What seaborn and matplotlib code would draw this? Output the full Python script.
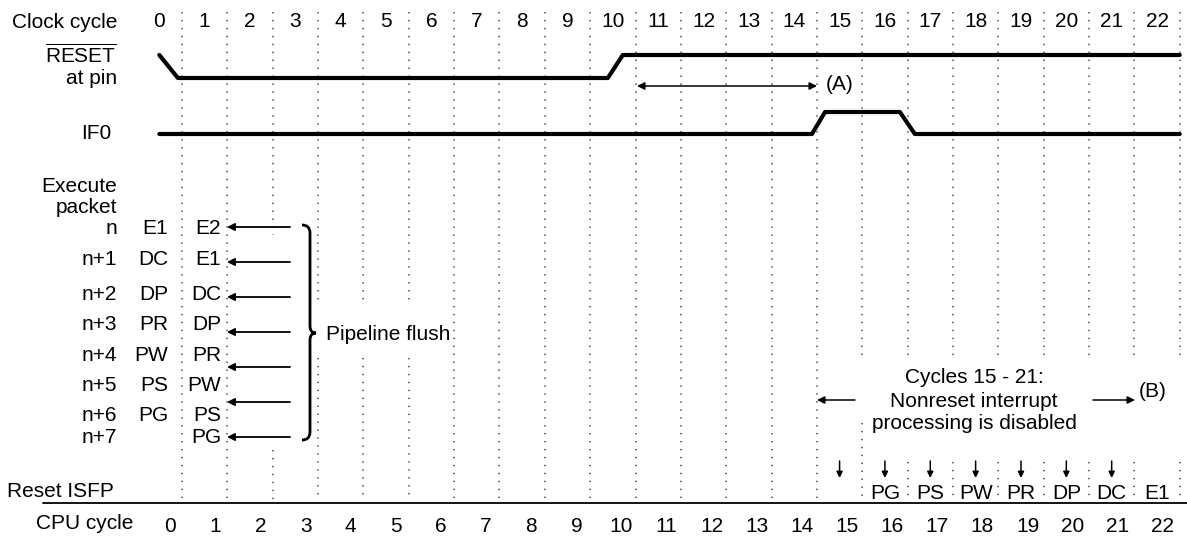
import numpy as np
import pandas as pd
import matplotlib.pyplot as plt
import seaborn as sns
from matplotlib.path import Path
from matplotlib.patches import PathPatch

# ── data ─────────────────────────────────────────────
clock_cycles = list(range(23))
cpu_cycles = list(range(23))

# signal transitions (time in clock cycles, level 1 = high)
reset_t = [0.0, 0.41, 9.89, 10.22, 22.5]
reset_lvl = [1, 0, 0, 1, 1]
if0_t = [0.0, 14.39, 14.68, 16.33, 16.66, 22.5]
if0_lvl = [0, 0, 1, 1, 0, 0]

packets = ["n", "n+1", "n+2", "n+3", "n+4", "n+5", "n+6", "n+7"]
stage_cyc0 = ["E1", "DC", "DP", "PR", "PW", "PS", "PG", ""]
stage_cyc1 = ["E2", "E1", "DC", "DP", "PR", "PW", "PS", "PG"]

blocked_cycles = [15, 16, 17, 18, 19, 20, 21]
isfp_cycles = [16, 17, 18, 19, 20, 21, 22]
isfp_stages = ["PG", "PS", "PW", "PR", "DP", "DC", "E1"]

# ── layout helpers (pixel rows, cycle columns) ──────
W, H = 1187, 537
PX0, STEP = 182, 45.35


def X(p):
    return 0.5 + (p - PX0) / STEP


sns.set_theme(style="white")
plt.rcParams["font.family"] = ["Liberation Sans", "DejaVu Sans"]
plt.rcParams["mathtext.fontset"] = "custom"
plt.rcParams["mathtext.rm"] = "Liberation Sans"
FS = 15
DY = 1.5  # text baseline nudge

fig = plt.figure(figsize=(W / 100, H / 100), dpi=100)
ax = fig.add_axes([0, 0, 1, 1])
ax.set_xlim(X(0), X(W))
ax.set_ylim(H, 0)
ax.axis("off")


def label(x, y, s, ha="center"):
    ax.text(x, y + DY, s, ha=ha, va="center", fontsize=FS, color="black")


# dotted cycle boundaries (gaps where annotations sit)
gaps = {2.5: [(12, 235), (450, 500)]}
for b in [3.5, 4.5, 5.5]:
    gaps[b] = [(12, 305), (358, 500)]
gaps[15.5] = [(12, 360), (423, 500)]
for b in [16.5, 17.5, 18.5, 19.5, 20.5, 21.5, 22.5]:
    gaps[b] = [(12, 360), (462, 500)]
for c in clock_cycles:
    b = c + 0.5
    for y0, y1 in gaps.get(b, [(12, 500)]):
        ax.plot([b, b], [y0, y1], color="#444444", lw=1.1,
                ls=(0, (0.9, 4.3)), zorder=1)

# labels on the left
lab_x = X(117)
label(lab_x, 21, "Clock cycle", "right")
label(lab_x, 54, r"$\overline{\mathrm{RESET}}$", "right")
label(lab_x, 77, "at pin", "right")
label(X(111), 132, "IF0", "right")
label(lab_x, 185, "Execute", "right")
label(lab_x, 206, "packet", "right")
label(X(7), 490, "Reset ISFP", "left")
label(X(36), 522, "CPU cycle", "left")

for c in clock_cycles:
    label(c, 20, str(c))
for c in cpu_cycles:
    label(0.24 + 0.995 * c, 525, str(c))

# waveforms
sig = pd.concat([
    pd.DataFrame({"t": reset_t, "y": [78 - 23 * v for v in reset_lvl], "sig": "RESET"}),
    pd.DataFrame({"t": if0_t, "y": [134 - 22 * v for v in if0_lvl], "sig": "IF0"}),
])
sns.lineplot(data=sig, x="t", y="y", units="sig", estimator=None, sort=False,
             color="black", lw=3, ax=ax, legend=False)

# (A) double arrow
ax.annotate("", xy=(X(637), 86), xytext=(X(817), 86),
            arrowprops=dict(arrowstyle="<|-|>", color="black", lw=1.1,
                            mutation_scale=11, shrinkA=0, shrinkB=0))
label(X(826), 83, "(A)", "left")

# execute packets
rows_y = [227, 258, 293, 323, 354, 384, 414, 436]
for yy, p, s0, s1 in zip(rows_y, packets, stage_cyc0, stage_cyc1):
    label(lab_x, yy, p, "right")
    label(X(168), yy, s0, "right")
    label(X(221), yy, s1, "right")

for k in range(7):
    yy = 227 + 35 * k
    ax.annotate("", xy=(X(227), yy), xytext=(X(290), yy),
                arrowprops=dict(arrowstyle="-|>", color="black", lw=1.3,
                                mutation_scale=11, shrinkA=0, shrinkB=0))

# brace
verts = [(302, 225), (310, 225), (310, 233), (310, 326), (310, 333), (316, 333),
         (310, 333), (310, 340), (310, 432), (310, 440), (302, 440)]
codes = [Path.MOVETO, Path.CURVE3, Path.CURVE3, Path.LINETO, Path.CURVE3, Path.CURVE3,
         Path.CURVE3, Path.CURVE3, Path.LINETO, Path.CURVE3, Path.CURVE3]
ax.add_patch(PathPatch(Path([(X(a), b) for a, b in verts], codes),
                       fill=False, lw=2, color="black"))
label(X(326), 333, "Pipeline flush", "left")

# nonreset interrupt window
label(X(974), 376, "Cycles 15 - 21:")
label(X(974), 400, "Nonreset interrupt")
label(X(974), 422, "processing is disabled")
ax.annotate("", xy=(X(817), 400), xytext=(X(855), 400),
            arrowprops=dict(arrowstyle="-|>", color="black", lw=1.1,
                            mutation_scale=11, shrinkA=0, shrinkB=0))
ax.annotate("", xy=(X(1135), 400), xytext=(X(1093), 400),
            arrowprops=dict(arrowstyle="-|>", color="black", lw=1.1,
                            mutation_scale=11, shrinkA=0, shrinkB=0))
label(X(1139), 390, "(B)", "left")

for c in blocked_cycles:
    ax.annotate("", xy=(c, 478), xytext=(c, 461),
                arrowprops=dict(arrowstyle="-|>", color="black", lw=1.1,
                                mutation_scale=9, shrinkA=0, shrinkB=0))
for c, s in zip(isfp_cycles, isfp_stages):
    label(c, 492, s)

ax.plot([X(43), X(W)], [503, 503], color="black", lw=1.3)

fig.savefig("out.png", dpi=100)
